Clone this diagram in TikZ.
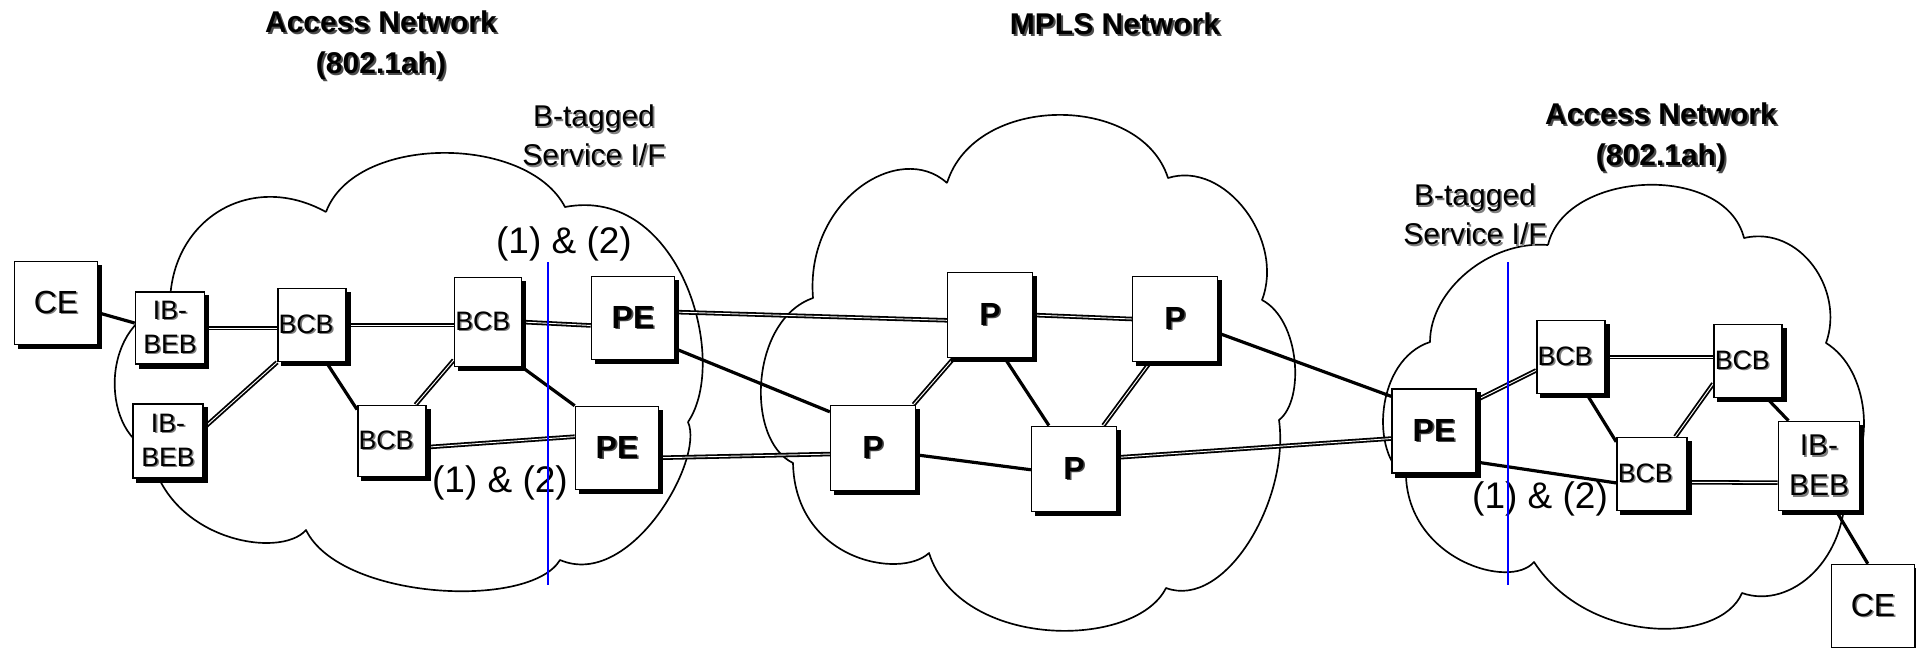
\documentclass[tikz,border=0pt]{standalone}
\usepackage{fontspec}
\setmainfont{Liberation Sans}
\definecolor{shade}{gray}{0.5}
\definecolor{darkshade}{gray}{0.3}
\definecolor{ifblue}{RGB}{0,0,255}
% text with an offset shadow copy behind it
\newcommand\shtxt[2][1.2pt]{\leavevmode\rlap{\hspace{#1}\raisebox{-#1}{\textcolor{shade}{#2}}}#2}
\newcommand\dshtxt[2][1.5pt]{\leavevmode\rlap{\hspace{#1}\raisebox{-#1}{\textcolor{darkshade}{#2}}}#2}
\pgfdeclarelayer{background}
\pgfdeclarelayer{shadowlayer}
\pgfsetlayers{background,shadowlayer,main}

\begin{document}
\begin{tikzpicture}[x=0.75pt, y=-0.75pt,
  box/.style={draw, line width=1.2pt, fill=white, inner sep=0pt},
  cebox/.style={box, minimum width=62.25pt, minimum height=62.25pt,
    font=\fontsize{24pt}{28pt}\selectfont},
  pebox/.style={box, minimum width=62.25pt, minimum height=62.25pt,
    font=\bfseries\fontsize{24pt}{28pt}\selectfont},
  pbox/.style={box, minimum width=63.5pt, minimum height=64pt,
    font=\bfseries\fontsize{24pt}{28pt}\selectfont},
  bcbbox/.style={box, minimum height=54.75pt, text width=50pt, inner xsep=0.6pt,
    align=left, font=\fontsize{20pt}{24pt}\selectfont},
  ibbox/.style={box, minimum width=52.5pt, minimum height=55.5pt, align=center,
    font=\fontsize{20pt}{25.5pt}\selectfont},
  title/.style={align=center, inner sep=0pt, font=\bfseries\fontsize{22.5pt}{30.75pt}\selectfont},
  tag/.style={align=center, inner sep=0pt, font=\fontsize{22.5pt}{29.25pt}\selectfont},
  pair/.style={inner sep=0pt, font=\fontsize{27.75pt}{33pt}\selectfont},
  ln/.style={line width=2.4pt},
  dln/.style={double, line width=1.35pt, double distance=0.7pt},
  cloudline/.style={line width=1.25pt, line join=round},
  boxshadow/.style={fill=black},
  iface/.style={ifblue, line width=1.7pt}
]
\useasboundingbox (0,0) rectangle (1916,647);

% ---------- network elements ----------
\node[cebox] (ceL) at (56,303) {\shtxt{CE}};
\node[ibbox, minimum width=51.75pt, minimum height=54pt] (ibL1) at (170,328) {\shtxt{IB-}\\\shtxt{BEB}};
\node[ibbox] (ibL2) at (168,441) {\shtxt{IB-}\\\shtxt{BEB}};
\node[bcbbox] (bcb1) at (312,325) {\shtxt{BCB}};
\node[bcbbox, text width=49pt, minimum height=66.75pt] (bcb2) at (488,322) {\shtxt{BCB}};
\node[bcbbox, minimum height=53.25pt] (bcb3) at (392,441) {\shtxt{BCB}};
\node[pebox] (peL1) at (633,318) {\dshtxt[1.2pt]{PE}};
\node[pebox] (peL2) at (617,448) {\dshtxt[1.2pt]{PE}};

\node[pbox] (p1) at (990,315) {\dshtxt[1.2pt]{P}};
\node[pbox] (p2) at (1175,319) {\dshtxt[1.2pt]{P}};
\node[pbox] (p3) at (873,448) {\dshtxt[1.2pt]{P}};
\node[pbox] (p4) at (1074,469) {\dshtxt[1.2pt]{P}};

\node[pebox, minimum width=63pt, minimum height=63pt] (peR) at (1434,431) {\dshtxt[1.2pt]{PE}};
\node[bcbbox] (bcbR1) at (1571,357) {\shtxt{BCB}};
\node[bcbbox, text width=49.8pt] (bcbR2) at (1748,361) {\shtxt{BCB}};
\node[bcbbox, text width=51.3pt] (bcbR3) at (1652,474) {\shtxt{BCB}};
\node[ibbox, minimum width=60.75pt, minimum height=66.75pt,
  font=\fontsize{22.5pt}{30pt}\selectfont] (ibR) at (1819,466) {\shtxt{IB-}\\\shtxt{BEB}};
\node[cebox] (ceR) at (1873,606) {\shtxt{CE}};

% ---------- drop shadows of the boxes ----------
\begin{pgfonlayer}{shadowlayer}
\foreach \n in {ceL,ibL1,ibL2,bcb1,bcb2,bcb3,peL1,peL2,p1,p2,p3,p4,
                peR,bcbR1,bcbR2,bcbR3,ibR,ceR}{
  \path (\n.north west) ++(4,4) coordinate (sa);
  \path (\n.south east) ++(4,4) coordinate (sb);
  \fill[boxshadow] (sa) rectangle (sb);
}
\end{pgfonlayer}

% ---------- clouds and links ----------
\begin{pgfonlayer}{background}
\fill[white] (0,0) rectangle (1916,647);
% left access network
\draw[cloudline] (326,212) .. controls (355,134) and (527,134) .. (565,207)
  .. controls (680,185) and (730,360) .. (688,422)
  .. controls (705,460) and (630,590) .. (560,560)
  .. controls (530,610) and (340,600) .. (306,530)
  .. controls (280,560) and (165,540) .. (150,450)
  .. controls (100,430) and (100,320) .. (170,305)
  .. controls (170,220) and (250,170) .. (326,212);
% MPLS core
\draw[cloudline] (947,183) .. controls (975,93) and (1141,93) .. (1168,178)
  .. controls (1225,160) and (1285,240) .. (1262,300)
  .. controls (1300,320) and (1305,400) .. (1279,420)
  .. controls (1290,500) and (1225,610) .. (1166,588)
  .. controls (1135,650) and (960,650) .. (929,553)
  .. controls (900,580) and (795,560) .. (793,463)
  .. controls (745,440) and (750,320) .. (813,298)
  .. controls (805,200) and (900,140) .. (947,183);
% right access network
\draw[cloudline] (1548,245) .. controls (1565,170) and (1725,162) .. (1744,238)
  .. controls (1800,225) and (1845,290) .. (1826,343)
  .. controls (1870,370) and (1875,450) .. (1845,480)
  .. controls (1850,560) and (1790,610) .. (1742,593)
  .. controls (1720,645) and (1588,645) .. (1534,562)
  .. controls (1510,590) and (1410,560) .. (1406,477)
  .. controls (1370,455) and (1375,360) .. (1430,342)
  .. controls (1430,290) and (1490,240) .. (1548,245);

% links, left
\draw[ln]  (ceL.-13) -- (ibL1.172);
\draw[dln] (ibL1.east) -- (ibL1.east -| bcb1.west);
\draw[dln] (bcb1.east) -- (bcb1.east -| bcb2.west);
\draw[dln] (bcb2.east) -- (peL1.190);
\draw[dln] (bcb1.south west) -- (ibL2.20);
\draw[ln]  (bcb1.-69) -- (bcb3.138);
\draw[dln] (bcb2.228) -- (bcb3.57);
\draw[ln]  (bcb2.south east) -- (peL2.north west);
\draw[dln] (bcb3.-10) -- (peL2.165);
% links, core
\draw[dln] (peL1.8) -- (p1.187);
\draw[ln]  (peL1.-36) -- (p3.140);
\draw[dln] (peL2.-13) -- (p3.188);
\draw[dln] (p1.east) -- (p2.west);
\draw[dln] (p1.230) -- (p3.47);
\draw[ln]  (p1.-71) -- (p4.120);
\draw[dln] (p2.240) -- (p4.56);
\draw[ln]  (p3.-9) -- (p4.181);
\draw[ln]  (p2.-18) -- (peR.141);
\draw[dln] (p4.15) -- (peR.190);
% links, right
\draw[dln] (peR.36) -- (bcbR1.201);
\draw[ln]  (peR.-36) -- (bcbR3.194);
\draw[dln] (bcbR1.east) -- (bcbR1.east -| bcbR2.west);
\draw[ln]  (bcbR1.-67) -- (bcbR3.138);
\draw[dln] (bcbR2.213) -- (bcbR3.58);
\draw[ln]  (bcbR2.-63) -- (ibR.124);
\draw[dln] (bcbR3.-13) -- (ibR.202);
\draw[ln]  (ibR.-69) -- (ceR.97);
\end{pgfonlayer}

% ---------- labels ----------
\node[title] (accL) at (381,46) {\dshtxt{Access Network}\\\dshtxt{(802.1ah)}};
\node[title] (mpls) at (1115,25) {\dshtxt{MPLS Network}};
\node[title] (accR) at (1661,138) {\dshtxt{Access Network}\\\dshtxt{(802.1ah)}};
\node[tag] (tagL) at (594,136) {\shtxt{B-tagged}\\\shtxt{Service I/F}};
\node[tag] (tagR) at (1475,215) {\shtxt{B-tagged}\\\shtxt{Service I/F}};
\node[pair] (pairA) at (564,244) {(1) \& (2)};
\node[pair] (pairB) at (500,483) {(1) \& (2)};
\node[pair] (pairC) at (1540,499) {(1) \& (2)};

% ---------- service interface boundaries ----------
\coordinate (ifLtop) at (548,262);
\coordinate (ifLbot) at (548,585);
\coordinate (ifRtop) at (1508,262);
\coordinate (ifRbot) at (1508,585);
\draw[iface] (ifLtop) -- (ifLbot);
\draw[iface] (ifRtop) -- (ifRbot);
\end{tikzpicture}
\end{document}
